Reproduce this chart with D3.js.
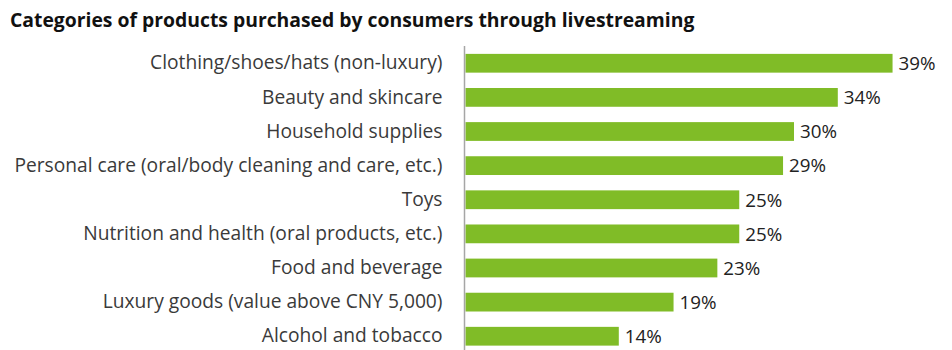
<!DOCTYPE html>
<html>
<head>
<meta charset="utf-8">
<script src="https://cdn.jsdelivr.net/npm/d3@7"></script>
<style>
  html, body { margin: 0; padding: 0; background: #fff; }
  svg { display: block; font-family: "Open Sans", sans-serif; }
</style>
</head>
<body>
<svg id="chart" width="952" height="350"></svg>
<script>
// Share of consumers buying each product category through livestreams (%)
const categories = [
  "Clothing/shoes/hats (non-luxury)",
  "Beauty and skincare",
  "Household supplies",
  "Personal care (oral/body cleaning and care, etc.)",
  "Toys",
  "Nutrition and health (oral products, etc.)",
  "Food and beverage",
  "Luxury goods (value above CNY 5,000)",
  "Alcohol and tobacco"
];
const values = [39, 34, 30, 29, 25, 25, 23, 19, 14];
const title = "Categories of products purchased by consumers through livestreaming";

const svg = d3.select("#chart");
const axisX = 464.5;

svg.append("text")
  .attr("x", 10)
  .attr("y", 27)
  .attr("font-size", 19.35)
  .attr("font-weight", 700)
  .attr("fill", "#111")
  .text(title);

const x = d3.scaleLinear().domain([0, 40]).range([axisX + 1, axisX + 1 + 438]);
const y = d3.scaleBand().domain(categories).range([46.2, 353.3]).paddingInner(0.45).paddingOuter(0.225);

const data = categories.map((c, i) => ({ c, v: values[i] }));

svg.selectAll("rect.bar")
  .data(data)
  .join("rect")
  .attr("class", "bar")
  .attr("x", x(0))
  .attr("y", d => y(d.c))
  .attr("width", d => x(d.v) - x(0))
  .attr("height", y.bandwidth())
  .attr("fill", "#80bc27");

// Category labels via a left axis with hidden line/ticks
const yAxis = svg.append("g")
  .attr("transform", `translate(${axisX},0)`)
  .call(d3.axisLeft(y).tickSize(0).tickPadding(22));
yAxis.select(".domain").remove();
yAxis.selectAll("text")
  .attr("font-size", 19.2)
  .attr("font-family", "Open Sans, sans-serif")
  .attr("fill", "#3a3a3a");

// Vertical baseline
svg.append("line")
  .attr("x1", axisX).attr("x2", axisX)
  .attr("y1", 46).attr("y2", 350)
  .attr("stroke", "#a6a6a6")
  .attr("stroke-width", 1.5);

svg.selectAll("text.val")
  .data(data)
  .join("text")
  .attr("class", "val")
  .attr("x", d => x(d.v) + 6)
  .attr("y", d => y(d.c) + y.bandwidth() / 2)
  .attr("dy", "0.36em")
  .attr("font-size", 18.8)
  .attr("fill", "#222")
  .text(d => d.v + "%");
</script>
</body>
</html>
